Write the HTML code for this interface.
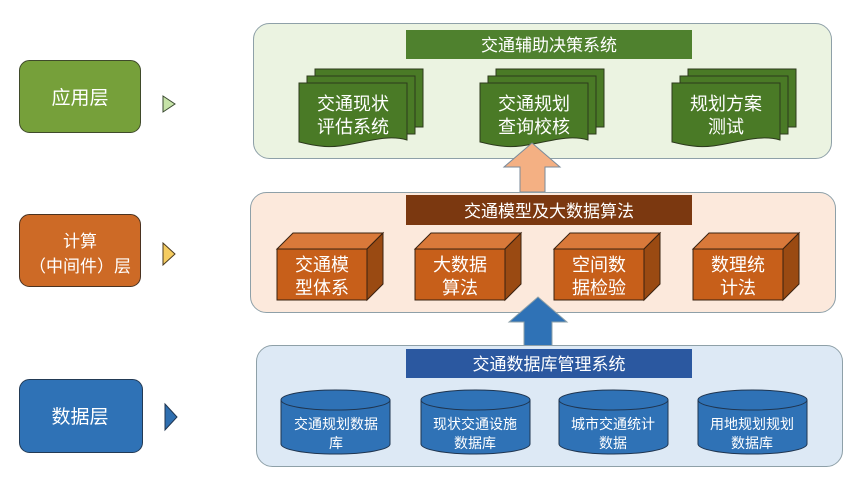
<!DOCTYPE html>
<html><head><meta charset="utf-8"><style>
html,body{margin:0;padding:0;background:#fff;width:848px;height:480px;overflow:hidden}
text{font-family:"Liberation Sans","Noto Sans CJK SC",sans-serif}
</style></head><body>
<svg width="848" height="480" viewBox="0 0 848 480" xmlns="http://www.w3.org/2000/svg">
<rect x="19.5" y="60.5" width="121" height="72" rx="10" fill="#76a03a" stroke="#3f4a2a"/>
<text x="80" y="104" font-size="19" fill="#fff" text-anchor="middle">应用层</text>
<rect x="19.5" y="214.5" width="121" height="72" rx="10" fill="#cd6a26" stroke="#4a3220"/>
<text x="80" y="247" font-size="17" fill="#fff" text-anchor="middle">计算</text>
<text x="80" y="272" font-size="17" fill="#fff" text-anchor="middle">（中间件）层</text>
<rect x="19.5" y="379.5" width="123" height="73" rx="10" fill="#2f72b6" stroke="#223a55"/>
<text x="80" y="423" font-size="19" fill="#fff" text-anchor="middle">数据层</text>
<polygon points="163,96 175,104 163,112" fill="#c6e3a8" stroke="#3a4a30"/>
<polygon points="163,243 175,254 163,265" fill="#f5cc60" stroke="#4a3a20"/>
<polygon points="165,404 177,417 165,430" fill="#2f6fb0" stroke="#1f3550"/>

<rect x="253.5" y="23.5" width="578" height="135" rx="16" fill="#ebf3e1" stroke="#8ea0a8"/>
<rect x="406" y="30" width="286" height="29" fill="#4f812e"/>
<text x="549" y="51" font-size="17" fill="#fff" text-anchor="middle">交通辅助决策系统</text>
<g stroke="#2c3a1c" stroke-width="1" fill="#4a7a26">
<g id="doc">
<rect x="315" y="69" width="108" height="58"/>
<rect x="307" y="76" width="108" height="58"/>
<path d="M299 83 H407 V140 C380 132 350 150 320 146 C310 145 304 143 299 142 Z"/>
</g>
<use href="#doc" x="181"/>
<use href="#doc" x="373"/>
</g>
<g font-size="18" fill="#fff" text-anchor="middle">
<text x="353" y="110">交通现状</text><text x="353" y="133">评估系统</text>
<text x="534" y="110">交通规划</text><text x="534" y="133">查询校核</text>
<text x="726" y="110">规划方案</text><text x="726" y="133">测试</text>
</g>
<polygon points="532,143 560,167 545,167 545,192 520,192 520,167 504,167" fill="#f4b083" stroke="#7a8a9a"/>

<rect x="250.5" y="192.5" width="585" height="120" rx="16" fill="#fce9dc" stroke="#8ea0a8"/>
<rect x="406" y="195" width="286" height="30" fill="#7b3810"/>
<text x="549" y="217" font-size="17" fill="#fff" text-anchor="middle">交通模型及大数据算法</text>
<g stroke="#3a2210" stroke-width="1">
<g id="box">
<polygon points="277,249 293,233 383,233 367,249" fill="#d9793a"/>
<polygon points="367,249 383,233 383,284 367,300" fill="#9a4a12"/>
<rect x="277" y="249" width="90" height="51" fill="#c75f1a"/>
</g>
<use href="#box" x="138"/>
<use href="#box" x="277"/>
<use href="#box" x="416"/>
</g>
<g font-size="18" fill="#fff" text-anchor="middle">
<text x="322" y="271">交通模</text><text x="322" y="294">型体系</text>
<text x="460" y="271">大数据</text><text x="460" y="294">算法</text>
<text x="599" y="271">空间数</text><text x="599" y="294">据检验</text>
<text x="738" y="271">数理统</text><text x="738" y="294">计法</text>
</g>
<polygon points="538,297 567,322 552,322 552,346 524,346 524,322 509,322" fill="#2f72b6" stroke="#8ea0a8"/>

<rect x="256.5" y="345.5" width="586" height="121" rx="16" fill="#dde9f5" stroke="#8ea0a8"/>
<rect x="406" y="349" width="286" height="29" fill="#2b58a0"/>
<text x="549" y="370" font-size="17" fill="#fff" text-anchor="middle">交通数据库管理系统</text>
<g stroke="#1f3550" stroke-width="1" fill="#2f72b6">
<g id="cyl">
<path d="M281 400 V444 A54.5 10 0 0 0 390 444 V400"/>
<ellipse cx="335.5" cy="400" rx="54.5" ry="10"/>
</g>
<use href="#cyl" x="140"/>
<use href="#cyl" x="278"/>
<use href="#cyl" x="417"/>
</g>
<g font-size="14" fill="#fff" text-anchor="middle">
<text x="336" y="429">交通规划数据</text><text x="336" y="448">库</text>
<text x="475" y="429">现状交通设施</text><text x="475" y="448">数据库</text>
<text x="613" y="429">城市交通统计</text><text x="613" y="448">数据</text>
<text x="752" y="429">用地规划规划</text><text x="752" y="448">数据库</text>
</g>
</svg>
</body></html>
